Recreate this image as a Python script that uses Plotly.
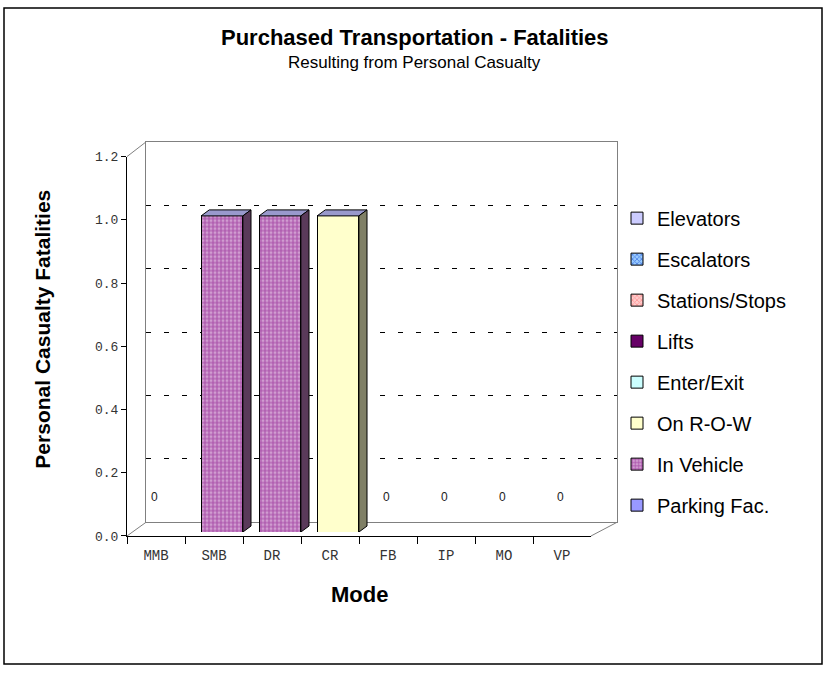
import plotly.graph_objects as go

# ---------------- data ----------------
categories = ["MMB", "SMB", "DR", "CR", "FB", "IP", "MO", "VP"]
y_ticks = [0.0, 0.2, 0.4, 0.6, 0.8, 1.0, 1.2]

elevators      = [0, 0, 0, 0, 0, 0, 0, 0]
escalators     = [0, 0, 0, 0, 0, 0, 0, 0]
stations_stops = [0, 0, 0, 0, 0, 0, 0, 0]
lifts          = [0, 0, 0, 0, 0, 0, 0, 0]
enter_exit     = [0, 0, 0, 0, 0, 0, 0, 0]
on_row         = [0, 0, 0, 1, 0, 0, 0, 0]
in_vehicle     = [0, 1, 1, 0, 0, 0, 0, 0]
parking_fac    = [0, 0, 0, 0, 0, 0, 0, 0]

series = [
    ("Elevators", elevators),
    ("Escalators", escalators),
    ("Stations/Stops", stations_stops),
    ("Lifts", lifts),
    ("Enter/Exit", enter_exit),
    ("On R-O-W", on_row),
    ("In Vehicle", in_vehicle),
    ("Parking Fac.", parking_fac),
]

# ---------------- styles ----------------
styles = {
    "Elevators":      dict(color="#CCCCFF", shape="", fg=None, side="#8080A0"),
    "Escalators":     dict(color="#99CCFF", shape="x", fg="#0033CC", side="#204080"),
    "Stations/Stops": dict(color="#FFCCCC", shape="x", fg="#FF6666", side="#A06060"),
    "Lifts":          dict(color="#660066", shape="", fg=None, side="#330033"),
    "Enter/Exit":     dict(color="#CCFFFF", shape="", fg=None, side="#80A0A0"),
    "On R-O-W":       dict(color="#FFFFCC", shape="", fg=None, side="#808066"),
    "In Vehicle":     dict(color="#D09CD0", shape="+", fg="#800080", side="#5A3A5A"),
    "Parking Fac.":   dict(color="#9999FF", shape="", fg=None, side="#5050A0"),
}
TOP_COLOR = "#9999CC"

W, H = 828, 676
def fx(p):
    return p / W
def fy(p):
    return 1 - p / H

# pixel frames (left, right, top(1.2), bottom(0))
BACK = (146, 617, 139, 528)
BARS = (135, 599, 150, 538)
FRONT = (127, 591, 154, 542)

BAR_W = 0.72
DEPTH_X = 0.14
DEPTH_Y = 0.019

fig = go.Figure()

idx = list(range(len(categories)))

# dummy trace so the back wall exists
fig.add_trace(go.Scatter(x=idx, y=[None] * len(idx), xaxis="x", yaxis="y",
                         showlegend=False, hoverinfo="skip"))

for name, vals in series:
    st = styles[name]
    marker = dict(color=st["color"], line=dict(color="black", width=1))
    if st["shape"]:
        marker["pattern"] = dict(shape=st["shape"], fgcolor=st["fg"],
                                 bgcolor=st["color"], size=4, solidity=0.45,
                                 fillmode="overlay")
    fig.add_trace(go.Bar(
        x=idx, y=vals, name=name, width=BAR_W, marker=marker,
        xaxis="x2", yaxis="y2", legendgroup=name, hoverinfo="skip",
    ))

fig.add_trace(go.Scatter(x=categories, y=[None] * len(categories),
                         xaxis="x3", yaxis="y3",
                         showlegend=False, hoverinfo="skip"))

# 3D faces for bars
shapes = []
for name, vals in series:
    st = styles[name]
    for i, v in enumerate(vals):
        if v > 0:
            x0, x1 = i - BAR_W / 2, i + BAR_W / 2
            shapes.append(dict(
                type="path", xref="x2", yref="y2",
                path=f"M {x0},{v} L {x0 + DEPTH_X},{v + DEPTH_Y} L {x1 + DEPTH_X},{v + DEPTH_Y} L {x1},{v} Z",
                fillcolor=TOP_COLOR, line=dict(color="black", width=1)))
            shapes.append(dict(
                type="path", xref="x2", yref="y2",
                path=f"M {x1},0 L {x1 + DEPTH_X},{DEPTH_Y} L {x1 + DEPTH_X},{v + DEPTH_Y} L {x1},{v} Z",
                fillcolor=st["side"], line=dict(color="black", width=1)))

# floor / wall connecting edges
GRAY = "#808080"
for (xa, ya), (xb, yb) in [((FRONT[0], FRONT[2]), (BACK[0], BACK[2])),
                           ((FRONT[0], FRONT[3]), (BACK[0], BACK[3])),
                           ((FRONT[1], FRONT[3]), (BACK[1], BACK[3]))]:
    shapes.append(dict(type="line", xref="paper", yref="paper",
                       x0=fx(xa), y0=fy(ya), x1=fx(xb), y1=fy(yb),
                       line=dict(color=GRAY, width=1)))

# outer border
shapes.append(dict(type="rect", xref="paper", yref="paper",
                   x0=fx(4), x1=fx(822), y0=fy(673), y1=fy(2),
                   line=dict(color="black", width=1.5), fillcolor="rgba(0,0,0,0)",
                   layer="below"))

# zero labels
totals = [sum(vals[i] for _, vals in series) for i in idx]
annotations = []
for i, t in enumerate(totals):
    if t == 0:
        annotations.append(dict(x=i, y=t, xref="x2", yref="y2", text=str(t),
                                showarrow=False, yshift=35, xshift=-10,
                                font=dict(family="Liberation Sans", size=12, color="#222222")))

annotations += [
    dict(x=0.501, y=fy(32), xref="paper", yref="paper", showarrow=False,
         xanchor="center", yanchor="middle",
         text="<b>Purchased Transportation - Fatalities</b>",
         font=dict(family="Liberation Sans", size=22, color="black")),
    dict(x=0.501, y=fy(58), xref="paper", yref="paper", showarrow=False,
         xanchor="center", yanchor="middle",
         text="Resulting from Personal Casualty",
         font=dict(family="Liberation Sans", size=17, color="black")),
    dict(x=fx(43), y=fy(331), xref="paper", yref="paper", showarrow=False,
         xanchor="center", yanchor="middle",
         text="<b>Personal Casualty Fatalities</b>", textangle=-90,
         font=dict(family="Liberation Sans", size=21, color="black")),
    dict(x=fx(359), y=fy(602), xref="paper", yref="paper", showarrow=False,
         xanchor="center", yanchor="middle",
         text="<b>Mode</b>",
         font=dict(family="Liberation Sans", size=22, color="black")),
]

tick_font = dict(family="Liberation Mono", size=13, color="#333333")

fig.update_layout(
    width=W, height=H,
    margin=dict(l=0, r=0, t=0, b=0),
    paper_bgcolor="white", plot_bgcolor="rgba(0,0,0,0)",
    barmode="stack",
    showlegend=True,
    legend=dict(x=fx(617), y=fy(197), xanchor="left", yanchor="top",
                traceorder="grouped", tracegroupgap=12,
                font=dict(family="Liberation Sans", size=20, color="black"),
                bgcolor="rgba(0,0,0,0)"),
    # back wall
    xaxis=dict(domain=[fx(BACK[0]), fx(BACK[1])], range=[-0.5, 7.5], anchor="y",
               showgrid=False, zeroline=False, showticklabels=False, ticks="",
               showline=True, linecolor=GRAY, linewidth=1, mirror=True),
    yaxis=dict(domain=[fy(BACK[3]), fy(BACK[2])], range=[0, 1.2], anchor="x",
               tickvals=y_ticks, showgrid=True, gridcolor="black", gridwidth=1,
               griddash="5px,13px", zeroline=False, showticklabels=False, ticks="",
               showline=True, linecolor=GRAY, linewidth=1, mirror=True),
    # bars
    xaxis2=dict(domain=[fx(BARS[0]), fx(BARS[1])], range=[-0.5, 7.5], anchor="y2",
                visible=False),
    yaxis2=dict(domain=[fy(BARS[3]), fy(BARS[2])], range=[0, 1.2], anchor="x2",
                visible=False),
    # front axes
    xaxis3=dict(domain=[fx(FRONT[0]), fx(FRONT[1])], anchor="y3", type="category",
                categoryorder="array", categoryarray=categories, range=[-0.5, 7.5],
                tickson="boundaries", ticks="outside", ticklen=7, tickcolor="black",
                ticklabelstandoff=6,
                showline=True, linecolor="black", linewidth=1, showgrid=False,
                zeroline=False, tickfont=dict(family="Liberation Mono", size=14, color="#333333")),
    yaxis3=dict(domain=[fy(FRONT[3]), fy(FRONT[2])], anchor="x3", range=[0, 1.2],
                tickvals=y_ticks, tickformat=".1f", ticks="outside", ticklen=5,
                tickcolor="black", showline=True, linecolor="black", linewidth=1,
                showgrid=False, zeroline=False, tickfont=tick_font),
    shapes=shapes,
    annotations=annotations,
)

fig.write_html("out.html", config={"displayModeBar": False},
               post_script="document.body.style.margin='0';")
